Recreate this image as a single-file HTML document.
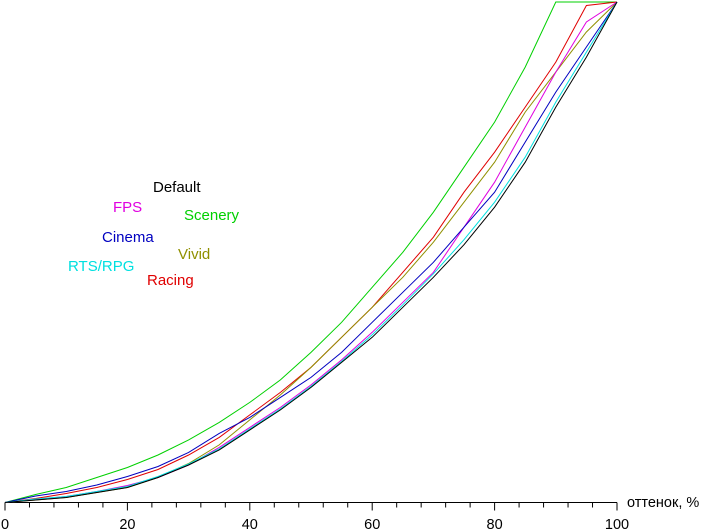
<!DOCTYPE html>
<html><head><meta charset="utf-8"><style>
html,body{margin:0;padding:0;background:#fff;}
svg{display:block;font-family:"Liberation Sans",sans-serif;}
</style></head><body>
<svg id="chart" width="703" height="531" viewBox="0 0 703 531">
<g id="axis"></g>
<g id="lines"></g>
<g id="legend"></g>
</svg>
<script>
const xs = [0,5,10,15,20,25,30,35,40,45,50,55,60,65,70,75,80,85,90,95,100];
const xTickLabels = ["0","20","40","60","80","100"];
const seriesNames = ["Default","FPS","Scenery","Cinema","Vivid","RTS/RPG","Racing"];
const defaultVals = [0,0.005,0.01,0.02,0.03,0.05,0.075,0.105,0.145,0.185,0.23,0.28,0.33,0.39,0.45,0.515,0.59,0.68,0.79,0.89,1];
const fpsVals = [0,0.006,0.012,0.022,0.034,0.05,0.075,0.11,0.15,0.19,0.235,0.285,0.34,0.4,0.46,0.55,0.64,0.75,0.86,0.96,1];
const sceneryVals = [0,0.016,0.03,0.05,0.07,0.095,0.125,0.16,0.2,0.245,0.3,0.36,0.43,0.5,0.58,0.67,0.76,0.87,1,1,1];
const cinemaVals = [0,0.013,0.022,0.035,0.052,0.072,0.1,0.138,0.17,0.21,0.25,0.3,0.36,0.42,0.48,0.55,0.62,0.72,0.82,0.91,1];
const vividVals = [0,0.005,0.01,0.02,0.03,0.05,0.078,0.115,0.165,0.215,0.27,0.33,0.39,0.45,0.52,0.6,0.68,0.78,0.86,0.94,1];
const rtsVals = [0,0.007,0.012,0.022,0.032,0.052,0.077,0.107,0.147,0.187,0.232,0.282,0.335,0.395,0.457,0.525,0.6,0.69,0.8,0.9,1];
const racingVals = [0,0.008,0.018,0.03,0.046,0.066,0.095,0.13,0.175,0.22,0.27,0.33,0.39,0.46,0.53,0.62,0.7,0.79,0.88,0.993,1];

const NS="http://www.w3.org/2000/svg";
const X0=5,X1=617,Y0=502.5,Y1=2;
const xScale=v=>X0+(X1-X0)*v/100;
const yScale=v=>Y0-(Y0-Y1)*v;
function mk(t,a,p){const e=document.createElementNS(NS,t);for(const k in a)e.setAttribute(k,a[k]);p.appendChild(e);return e;}
const ax=document.getElementById('axis');
let base=mk('line',{x1:X0,y1:Y0,x2:X1,y2:Y0,stroke:'#000','stroke-width':1},ax);


for(let v=0;v<=100;v+=4){
  const major=v%20===0;
  const t=mk('line',{x1:xScale(v),y1:Y0,x2:xScale(v),y2:Y0+(major?8:5),stroke:'#000'},ax);
  
  
}
xTickLabels.forEach((s,i)=>{
  const t=mk('text',{x:xScale(i*20),y:529,'text-anchor':'middle','font-size':14.5,fill:'#000'},ax);
  t.textContent=s;
  
  
});
const at=mk('text',{x:627,y:507,'font-size':14.5,fill:'#000'},ax);
at.textContent='оттенок, %';



const series=[
 [defaultVals,'#000000',153,192],[fpsVals,'#e000e0',113,212],[sceneryVals,'#00d000',184,220],
 [cinemaVals,'#0000c0',102,242],[vividVals,'#909000',178,259],[rtsVals,'#00e0e0',68,271],[racingVals,'#e00000',147,285]];
const order=[2,6,4,1,3,5,0];
const lg=document.getElementById('lines');
order.forEach(i=>{
  const [vals,col]=series[i];
  const d=vals.map((v,j)=>(j?'L':'M')+xScale(xs[j]).toFixed(1)+' '+yScale(v).toFixed(1)).join(' ');
  const p=mk('path',{d:d,fill:'none',stroke:col,'stroke-width':1},lg);
  
  
});
const leg=document.getElementById('legend');
series.forEach((s,i)=>{
  const t=mk('text',{x:s[2],y:s[3],'font-size':15,fill:s[1]},leg);
  t.textContent=seriesNames[i];
  
  
});
</script>
</body></html>
